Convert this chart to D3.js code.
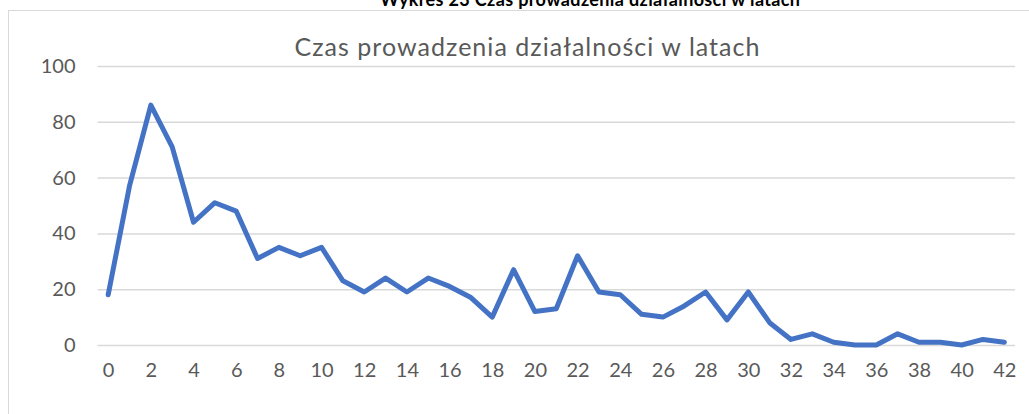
<html>
<head>
<meta charset="utf-8">
<style>
    body { margin:0; background:#fff; overflow:hidden; }
    svg { display:block; }
</style>
</head>
<body>
<svg id="chart"></svg>
<script src="https://d3js.org/d3.v7.min.js"></script>
<script>
    // years of running the business (categories) and number of answers
    const years = d3.range(0, 43);
    const counts = [18, 57, 86, 71, 44, 51, 48, 31, 35, 32,
                    35, 23, 19, 24, 19, 24, 21, 17, 10, 27,
                    12, 13, 32, 19, 18, 11, 10, 14, 19, 9,
                    19, 8, 2, 4, 1, 0, 0, 4, 1, 1,
                    0, 2, 1];
    const yTicks = [0, 20, 40, 60, 80, 100];
    const xTicks = years.filter(d => d % 2 == 0);

    const heading = "Wykres 23 Czas prowadzenia działalności w latach";
    const title = "Czas prowadzenia działalności w latach";

    const width = 1029, height = 414;
    const font = "Lato, 'Open Sans', sans-serif";

    const svg = d3.select("#chart")
        .attr("width", width)
        .attr("height", height);

    // page heading, the page is cropped through it
    svg.append("text")
        .attr("x", 590)
        .attr("y", 6)
        .attr("text-anchor", "middle")
        .attr("font-family", font)
        .attr("font-weight", "bold")
        .attr("font-size", 18)
        .attr("textLength", 420)
        .attr("lengthAdjust", "spacing")
        .attr("fill", "#000")
        .text(heading);

    // chart frame
    svg.append("rect")
        .attr("x", 8.5)
        .attr("y", 10.5)
        .attr("width", 1040)
        .attr("height", 420)
        .attr("fill", "#fff")
        .attr("stroke", "#d9d9d9")
        .attr("stroke-width", 1);

    svg.append("text")
        .attr("x", 527)
        .attr("y", 56)
        .attr("text-anchor", "middle")
        .attr("font-family", font)
        .attr("font-size", 25)
        .attr("textLength", 465)
        .attr("lengthAdjust", "spacing")
        .attr("fill", "#595959")
        .text(title);

    const x = d3.scalePoint()
        .domain(years)
        .range([97.5, 1015])
        .padding(0.5);

    const y = d3.scaleLinear()
        .domain([0, 100])
        .range([345, 66]);

    // gridlines + y labels
    const yAxis = d3.axisLeft(y)
        .tickValues(yTicks)
        .tickSize(-(1015 - 97.5))
        .tickPadding(22);

    const gY = svg.append("g")
        .attr("transform", "translate(97.5,0)")
        .call(yAxis);
    gY.select(".domain").remove();
    gY.selectAll(".tick line")
        .attr("stroke", "#d9d9d9")
        .attr("stroke-width", 1.5);
    gY.selectAll(".tick text")
        .attr("font-family", font)
        .attr("font-size", 20)
        .attr("fill", "#595959");

    // x labels
    const xAxis = d3.axisBottom(x)
        .tickValues(xTicks)
        .tickSize(0)
        .tickPadding(18);

    const gX = svg.append("g")
        .attr("transform", "translate(0,345)")
        .call(xAxis);
    gX.select(".domain").remove();
    gX.selectAll(".tick text")
        .attr("font-family", font)
        .attr("font-size", 20)
        .attr("fill", "#595959");

    const line = d3.line()
        .x((d, i) => x(years[i]))
        .y(d => y(d));

    svg.append("path")
        .datum(counts)
        .attr("d", line)
        .attr("fill", "none")
        .attr("stroke", "#4472c4")
        .attr("stroke-width", 5)
        .attr("stroke-linejoin", "round")
        .attr("stroke-linecap", "round");
</script>
</body>
</html>
